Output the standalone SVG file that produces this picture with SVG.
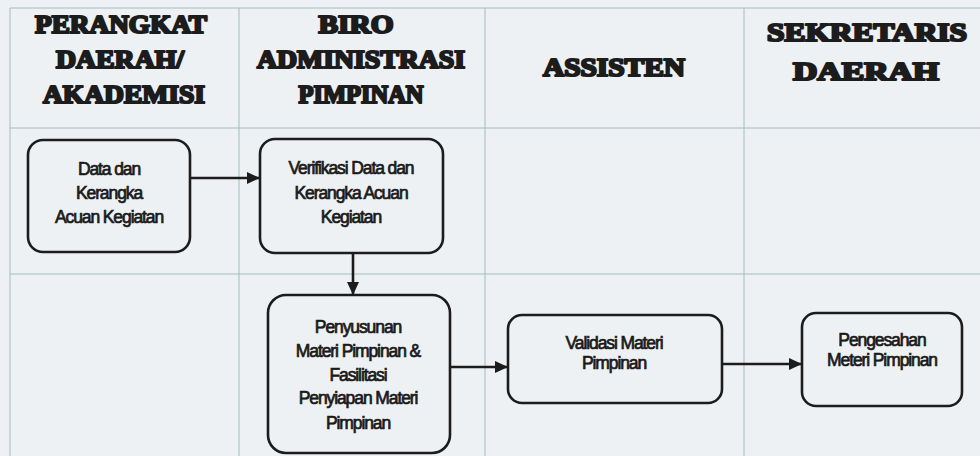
<svg xmlns="http://www.w3.org/2000/svg" width="980" height="456" viewBox="0 0 980 456">
  <defs>
    <marker id="arrow" viewBox="0 0 13 12" refX="13" refY="6" markerWidth="13" markerHeight="12" markerUnits="userSpaceOnUse" orient="auto">
      <path d="M0,0 L13,6 L0,12 Z" fill="#1c1c1c"/>
    </marker>
    <style>
      .grid { stroke: #a3bcbe; stroke-width: 1; fill: none; }
      .head { font-family: "Liberation Serif", "DejaVu Serif", serif; font-weight: bold; font-size: 25px; fill: #1c1c1c; stroke: #1c1c1c; stroke-width: 2.2; stroke-linejoin: round; text-anchor: middle; }
      .box { fill: none; stroke: #1c1c1c; stroke-width: 2.6; }
      .lbl { font-family: "Liberation Sans", Arial, sans-serif; font-size: 17.5px; letter-spacing: -1.1px; fill: #1a1a1a; stroke: #1a1a1a; stroke-width: 0.7; text-anchor: middle; }
      .link { stroke: #1c1c1c; stroke-width: 2.6; fill: none; marker-end: url(#arrow); }
    </style>
  </defs>

  <rect width="980" height="456" fill="#eef1f4"/>

  <!-- swimlane grid -->
  <g id="grid">
    <line class="grid" x1="10" y1="8" x2="980" y2="8"/>
    <line class="grid" x1="10" y1="128" x2="980" y2="128"/>
    <line class="grid" x1="10" y1="274" x2="980" y2="274"/>
    <line class="grid" x1="10" y1="8" x2="10" y2="456"/>
    <line class="grid" x1="239" y1="8" x2="239" y2="456"/>
    <line class="grid" x1="485" y1="8" x2="485" y2="456"/>
    <line class="grid" x1="744" y1="8" x2="744" y2="456"/>
  </g>

  <!-- lane headers -->
  <g id="headers">
    <text class="head" x="121" y="33" textLength="172" lengthAdjust="spacingAndGlyphs">PERANGKAT</text>
    <text class="head" x="120" y="68" textLength="128" lengthAdjust="spacingAndGlyphs">DAERAH/</text>
    <text class="head" x="124" y="103" textLength="162" lengthAdjust="spacingAndGlyphs">AKADEMISI</text>
    <text class="head" x="356" y="33" textLength="75" lengthAdjust="spacingAndGlyphs">BIRO</text>
    <text class="head" x="361" y="68" textLength="208" lengthAdjust="spacingAndGlyphs">ADMINISTRASI</text>
    <text class="head" x="361" y="103" textLength="125" lengthAdjust="spacingAndGlyphs">PIMPINAN</text>
    <text class="head" x="614" y="76" textLength="142" lengthAdjust="spacingAndGlyphs">ASSISTEN</text>
    <text class="head" x="867" y="41" textLength="200" lengthAdjust="spacingAndGlyphs">SEKRETARIS</text>
    <text class="head" x="866" y="80" textLength="146" lengthAdjust="spacingAndGlyphs">DAERAH</text>
  </g>

  <!-- process steps -->
  <g id="data-kak">
    <rect class="box" x="28" y="140" width="162" height="112" rx="15"/>
    <text class="lbl" x="109" y="175">Data dan</text>
    <text class="lbl" x="109" y="199">Kerangka</text>
    <text class="lbl" x="109" y="223">Acuan Kegiatan</text>
  </g>

  <g id="verifikasi">
    <rect class="box" x="260" y="139" width="183" height="114" rx="15"/>
    <text class="lbl" x="351" y="174">Verifikasi Data dan</text>
    <text class="lbl" x="351" y="199">Kerangka Acuan</text>
    <text class="lbl" x="351" y="223">Kegiatan</text>
  </g>

  <g id="penyusunan">
    <rect class="box" x="268" y="295" width="182" height="158" rx="18"/>
    <text class="lbl" x="358" y="333">Penyusunan</text>
    <text class="lbl" x="358" y="357">Materi Pimpinan &amp;</text>
    <text class="lbl" x="358" y="381">Fasilitasi</text>
    <text class="lbl" x="358" y="404">Penyiapan Materi</text>
    <text class="lbl" x="358" y="429">Pimpinan</text>
  </g>

  <g id="validasi">
    <rect class="box" x="508" y="315" width="214" height="88" rx="14"/>
    <text class="lbl" x="614" y="349">Validasi  Materi</text>
    <text class="lbl" x="614" y="369">Pimpinan</text>
  </g>

  <g id="pengesahan">
    <rect class="box" x="802" y="313" width="160" height="93" rx="14"/>
    <text class="lbl" x="882" y="346">Pengesahan</text>
    <text class="lbl" x="882" y="366">Meteri Pimpinan</text>
  </g>

  <!-- flow connectors -->
  <g id="connectors">
    <line class="link" x1="190" y1="178" x2="260" y2="178"/>
    <line class="link" x1="353" y1="253" x2="353" y2="295"/>
    <line class="link" x1="450" y1="367" x2="508" y2="367"/>
    <line class="link" x1="722" y1="364" x2="802" y2="364"/>
  </g>
</svg>
